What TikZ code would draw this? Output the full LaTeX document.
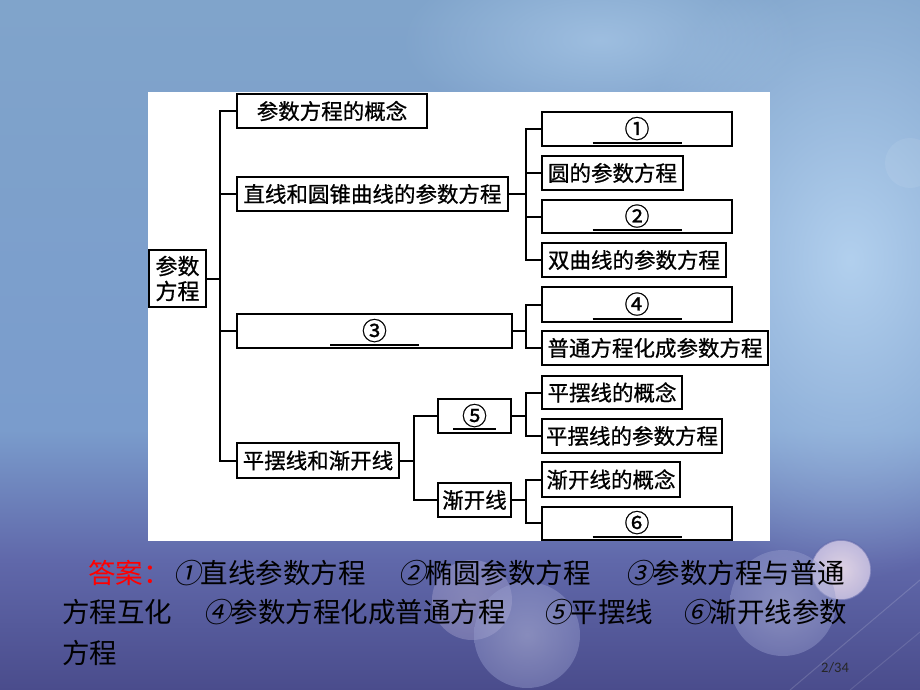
\documentclass[tikz,border=0pt]{standalone}
\usepackage{fontspec}
\setmainfont{Noto Sans CJK SC}
\newfontfamily\slcjk[FakeSlant=0.22]{Noto Sans CJK SC}
\newfontfamily\boxcjk[FakeBold=0.8]{Noto Sans CJK SC}
\newfontfamily\pgnum{Carlito}
\usetikzlibrary{fadings}
\tikzfading[name=softglow, inner color=transparent!0, outer color=transparent!100]
\definecolor{bgA}{RGB}{128,164,203}
\definecolor{bgB}{RGB}{122,156,204}
\definecolor{bgM}{RGB}{96,104,170}
\definecolor{bgC}{RGB}{74,76,140}
\definecolor{bgL}{RGB}{178,208,238}
\definecolor{sph}{RGB}{150,156,205}
\definecolor{sphin}{RGB}{200,204,232}
\definecolor{pinkin}{RGB}{236,222,234}
\definecolor{pinkout}{RGB}{200,192,225}
\definecolor{ansred}{RGB}{255,0,0}
\newcommand{\circnum}[1]{\raisebox{3pt}{\fontsize{25}{25}\selectfont #1}}
\begin{document}
\begin{tikzpicture}[x=1pt,y=-1pt,
  tbox/.style={draw=black, line width=2pt, inner sep=0pt, fill=white,
    font=\boxcjk\fontsize{21.5}{25}\selectfont},
  conn/.style={line width=2pt, line join=miter},
  uline/.style={line width=2pt},
  ans/.style={anchor=west, inner sep=0pt, font=\fontsize{27.5}{30}\selectfont},
  sphere/.style={inner color=sphin, outer color=sph, opacity=0.45}]
\useasboundingbox (0,0) rectangle (920,690);
% background
\fill[top color=bgA, bottom color=bgB] (0,0) rectangle (920,430);
\fill[top color=bgB, bottom color=bgM] (0,430) rectangle (920,560);
\fill[top color=bgM, bottom color=bgC] (0,560) rectangle (920,690);
\fill[bgL, path fading=softglow] (850,260) ellipse (230 and 320);
\fill[bgL, path fading=softglow, opacity=0.6] (600,40) ellipse (200 and 90);
\fill[white, opacity=0.08] (910,163) circle (25);
\draw[white, opacity=0.15, line width=1pt] (790,690) -- (920,580);
\draw[white, opacity=0.12, line width=1pt] (850,690) -- (920,632);
% spheres
\shade[inner color=pinkin, outer color=pinkout, opacity=0.3] (472,600) circle (40);
\shade[sphere] (527,635) circle (53);
\shade[inner color=pinkin, outer color=pinkout, opacity=0.9] (841,570) circle (30);
\draw[bgM, line width=1.5pt, opacity=0.6] (841,570) circle (30);
\shade[sphere] (783,603) circle (53);
% panel
\fill[white] (148,92) rectangle (770,541);
% boxes
\node[tbox, minimum width=57, minimum height=57, align=center,
  font=\boxcjk\fontsize{22}{25}\selectfont] (root) at (177.5,278.5) {参数\\方程};
\node[tbox, minimum width=190, minimum height=34] (n1) at (332,111) {参数方程的概念};
\node[tbox, minimum width=271, minimum height=34] (n2) at (372.5,194) {直线和圆锥曲线的参数方程};
\node[tbox, minimum width=275, minimum height=34] (n3) at (374.5,331) {\circnum{③}};
\node[tbox, minimum width=162, minimum height=35] (n4) at (318,460.5) {平摆线和渐开线};
\node[tbox, minimum width=73, minimum height=34] (n41) at (474.5,416) {\circnum{⑤}};
\node[tbox, minimum width=73, minimum height=34] (n42) at (474.5,500) {渐开线};
\node[tbox, minimum width=190, minimum height=34] (a1) at (637,129) {\circnum{①}};
\node[tbox, minimum width=141, minimum height=34] (a2) at (612.5,173) {圆的参数方程};
\node[tbox, minimum width=190, minimum height=33] (a3) at (637,216.5) {\circnum{②}};
\node[tbox, minimum width=184, minimum height=34] (a4) at (634,260) {双曲线的参数方程};
\node[tbox, minimum width=190, minimum height=35] (b1) at (637,304.5) {\circnum{④}};
\node[tbox, minimum width=226, minimum height=34] (b2) at (655,348) {普通方程化成参数方程};
\node[tbox, minimum width=140, minimum height=33] (c1) at (612,392.5) {平摆线的概念};
\node[tbox, minimum width=180, minimum height=34] (c2) at (632,436) {平摆线的参数方程};
\node[tbox, minimum width=138, minimum height=35] (d1) at (611,479.5) {渐开线的概念};
\node[tbox, minimum width=190, minimum height=33] (d2) at (637,523) {\circnum{⑥}};
% underlines
\foreach \b in {a1,a3,b1,d2,n3}{
  \draw[uline] ([xshift=-44.5pt,yshift=4pt]\b.south) -- ([xshift=44.5pt,yshift=4pt]\b.south);
}
\draw[uline] ([xshift=-21.5pt,yshift=5pt]n41.south) -- ([xshift=21.5pt,yshift=5pt]n41.south);
% connectors
\draw[conn] (root.east) -- (220,278.5) coordinate (t0);
\foreach \c in {n1,n2,n3,n4}{ \draw[conn] (t0) |- (\c.west); }
\draw[conn] (n2.east) -- (526,194) coordinate (t2);
\foreach \c in {a1,a2,a3,a4}{ \draw[conn] (t2) |- (\c.west); }
\draw[conn] (n3.east) -- (526,331) coordinate (t3);
\foreach \c in {b1,b2}{ \draw[conn] (t3) |- (\c.west); }
\draw[conn] (n4.east) -- (414,460.5) coordinate (t4);
\foreach \c in {n41,n42}{ \draw[conn] (t4) |- (\c.west); }
\draw[conn] (n41.east) -- (526,416) coordinate (t5);
\foreach \c in {c1,c2}{ \draw[conn] (t5) |- (\c.west); }
\draw[conn] (n42.east) -- (526,500) coordinate (t6);
\foreach \c in {d1,d2}{ \draw[conn] (t6) |- (\c.west); }
% answers
\node[ans, text=ansred] (ans0) at (88,573) {答案：};
\node[ans] (ans1) at (173,573) {{\slcjk ①}直线参数方程};
\node[ans] (ans2) at (398,573) {{\slcjk ②}椭圆参数方程};
\node[ans] (ans3) at (625,573) {{\slcjk ③}参数方程与普通};
\node[ans] (ans4) at (62,612) {方程互化};
\node[ans] (ans5) at (203,612) {{\slcjk ④}参数方程化成普通方程};
\node[ans] (ans6) at (543,612) {{\slcjk ⑤}平摆线};
\node[ans] (ans7) at (682,612) {{\slcjk ⑥}渐开线参数};
\node[ans] (ans8) at (62,653) {方程};
\node[anchor=west, inner sep=0pt, text=black!85, font=\pgnum\fontsize{14.5}{15}\selectfont] (pg) at (821,668) {2/34};
\end{tikzpicture}
\end{document}
